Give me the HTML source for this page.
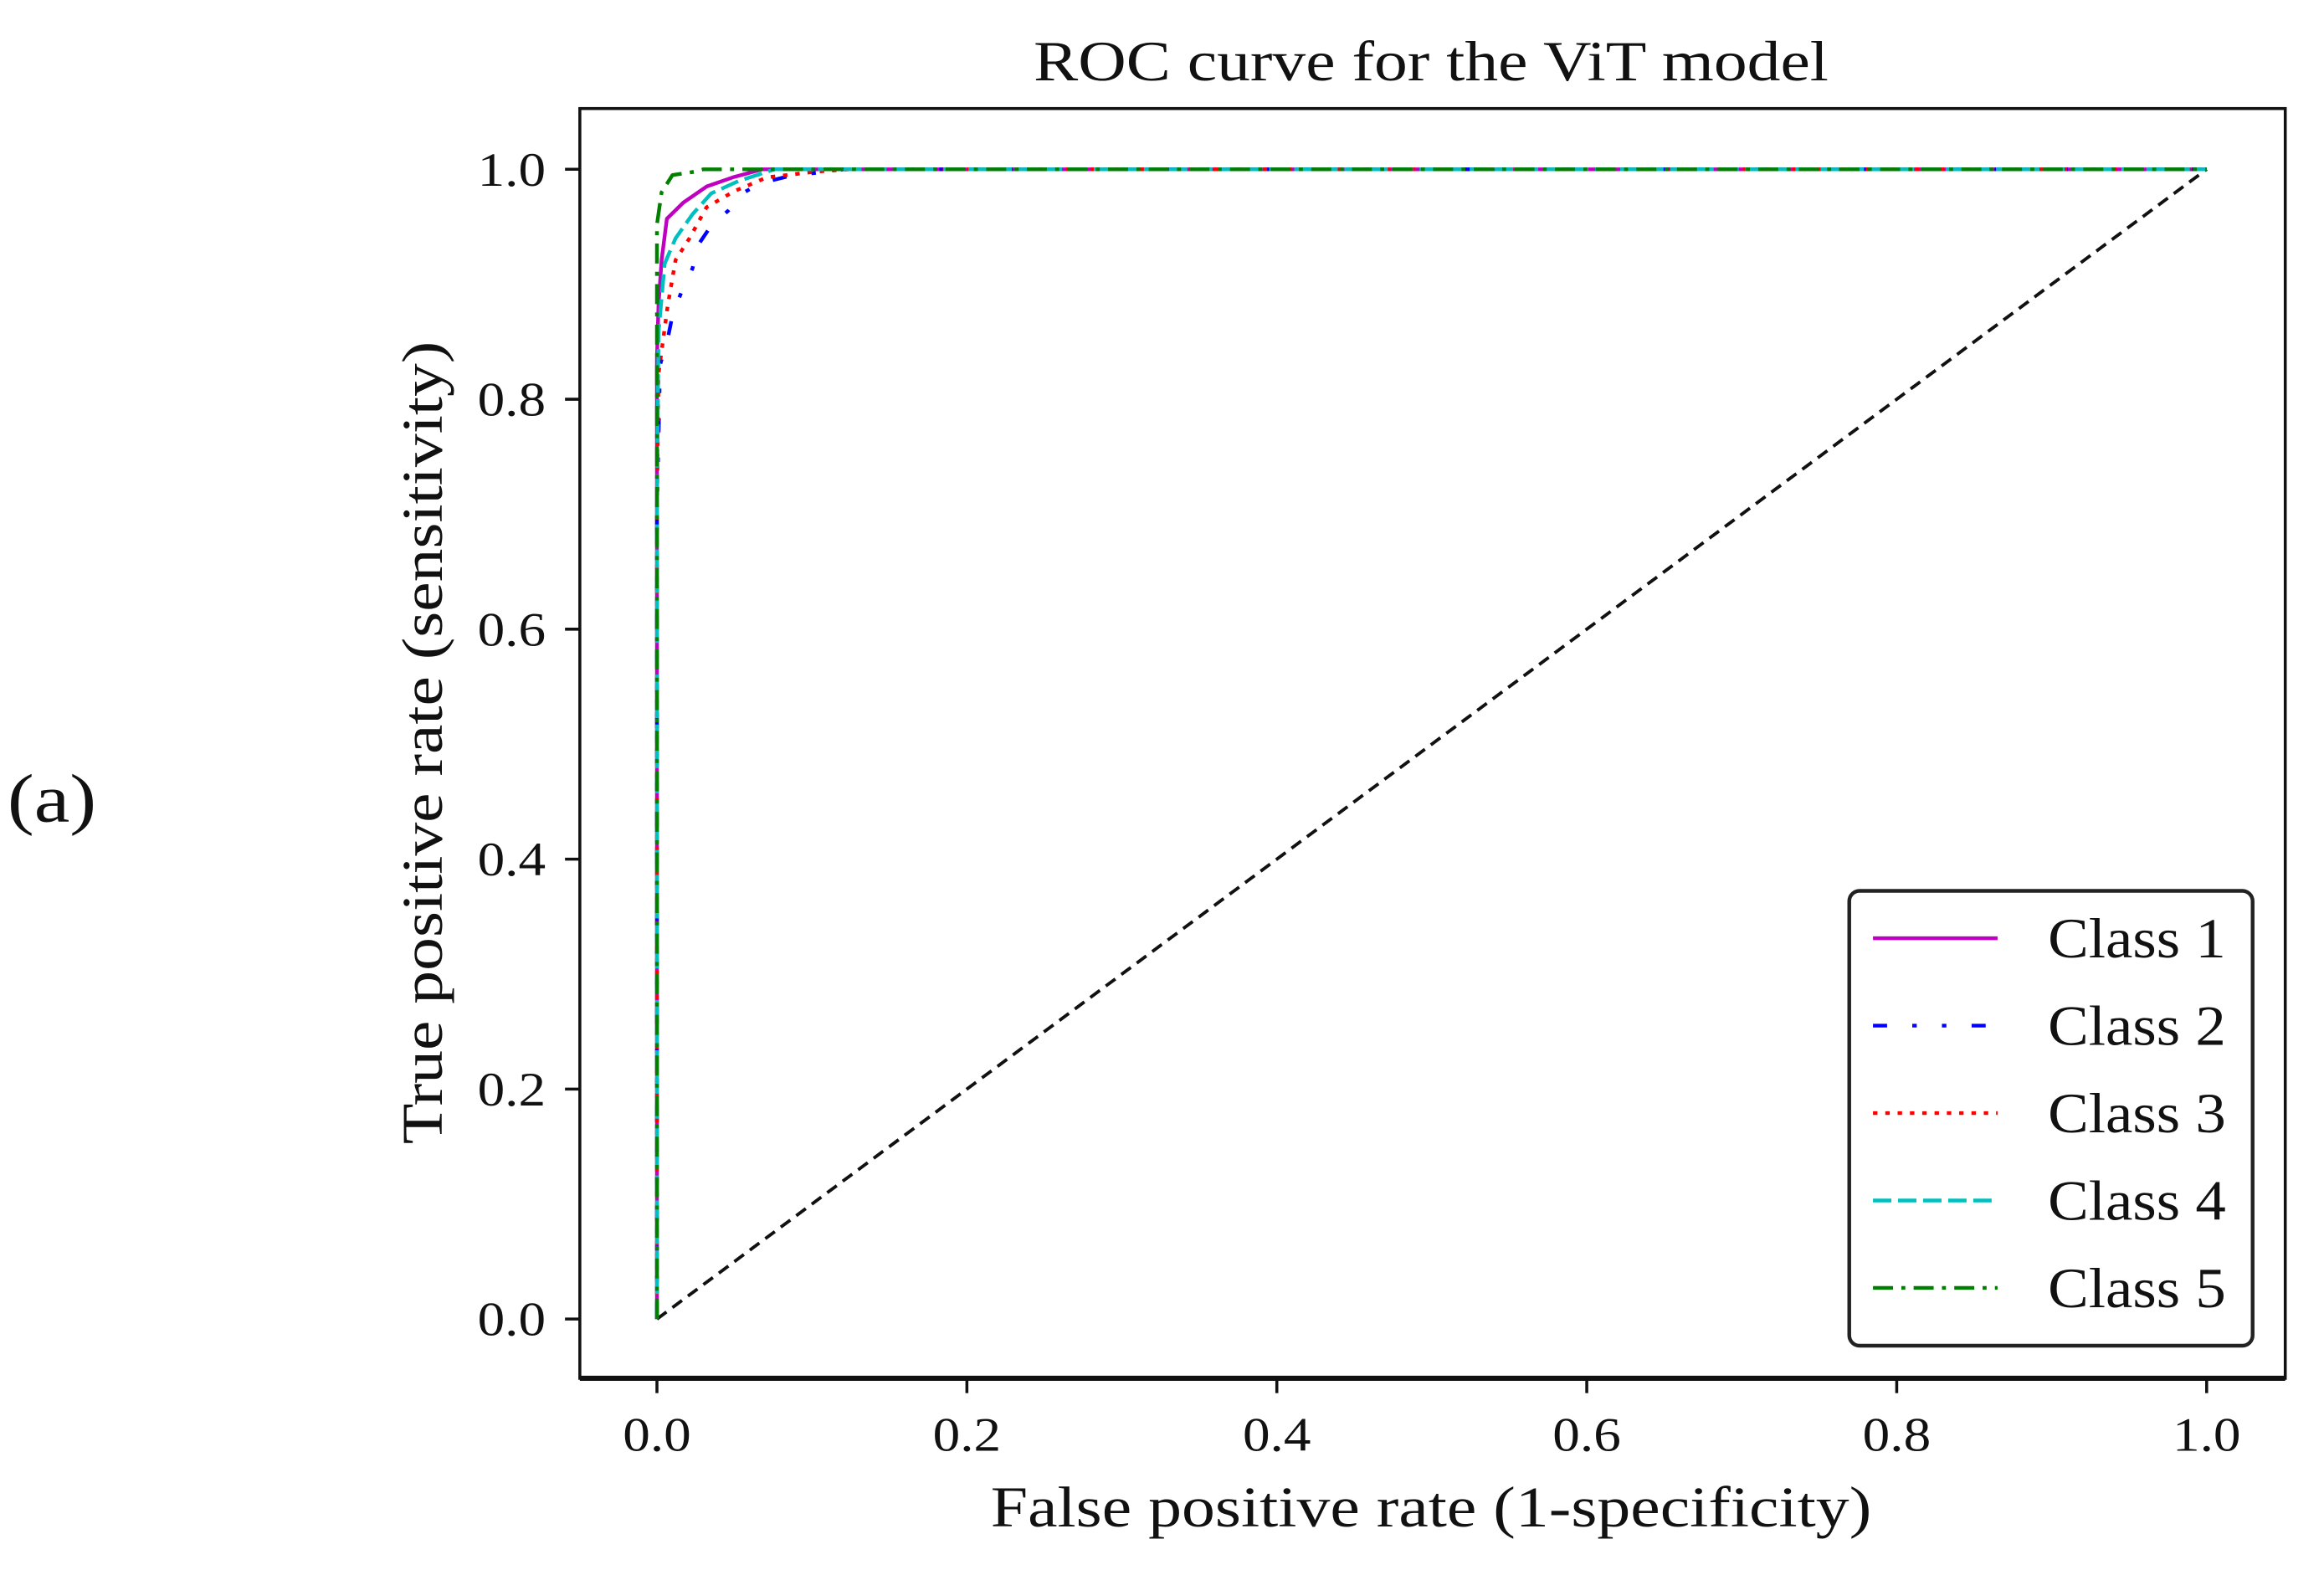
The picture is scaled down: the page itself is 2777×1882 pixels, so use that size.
<!DOCTYPE html>
<html><head><meta charset="utf-8"><style>
html,body{margin:0;padding:0;background:#fff;}
svg{display:block;}
text{font-family:"Liberation Serif",serif;fill:#111;}
</style></head><body>
<svg id="chart" width="2777" height="1882" viewBox="0 0 1556 1054" xmlns="http://www.w3.org/2000/svg">
<g transform="scale(0.9929,0.992)">
<text x="5" y="554" font-size="46" textLength="60" lengthAdjust="spacingAndGlyphs">(a)</text>
<text x="965" y="54" font-size="38" text-anchor="middle" textLength="536" lengthAdjust="spacingAndGlyphs">ROC curve for the ViT model</text>
<text x="965" y="1030" font-size="39" text-anchor="middle" textLength="594" lengthAdjust="spacingAndGlyphs">False positive rate (1-specificity)</text>
<text transform="translate(298,501) rotate(-90)" font-size="39" text-anchor="middle" textLength="542" lengthAdjust="spacingAndGlyphs">True positive rate (sensitivity)</text>
<g id="plot"></g>
<rect x="391" y="73" width="1150" height="857" fill="none" stroke="#111" stroke-width="2"/>
<line x1="391" y1="930" x2="1541" y2="930" stroke="#111" stroke-width="3.5"/>
<g id="ticks"></g>
<g id="legend">
<rect x="1247" y="601" width="272" height="307" rx="7" fill="#fff" stroke="#222" stroke-width="2.5"/>
</g>
</g>
</svg>
<script>
const xTicks=[0,0.2,0.4,0.6,0.8,1.0];
const yTicks=[0,0.2,0.4,0.6,0.8,1.0];
const tickLabels=["0.0","0.2","0.4","0.6","0.8","1.0"];
const classNames=["Class 1","Class 2","Class 3","Class 4","Class 5"];
const fpr1=[0,0,0,0.001,0.003,0.0064,0.017,0.032,0.049,0.068,1];
const tpr1=[0,0.7,0.835,0.882,0.921,0.957,0.971,0.985,0.993,1,1];
const fpr2=[0,0,0.002,0.007,0.01,0.016,0.023,0.026,0.035,0.046,0.055,0.067,0.085,0.121,1];
const tpr2=[0,0.7,0.83,0.853,0.873,0.894,0.914,0.933,0.951,0.964,0.979,0.988,0.994,1,1];
const fpr3=[0,0,0.001,0.007,0.012,0.021,0.032,0.05,0.071,0.103,0.125,1];
const tpr3=[0,0.7,0.822,0.882,0.921,0.94,0.967,0.981,0.993,0.998,1,1];
const fpr4=[0,0,0.001,0.005,0.012,0.023,0.035,0.053,0.076,1];
const tpr4=[0,0.7,0.858,0.918,0.94,0.961,0.979,0.99,1,1];
const fpr5=[0,0,0,0.003,0.01,0.025,0.03,1];
const tpr5=[0,0.7,0.952,0.98,0.995,0.998,1,1];
const diagX=[0,1];
const diagY=[0,1];

const NS="http://www.w3.org/2000/svg";
function sx(v){return 443+1045*v;}
function sy(v){return 890-776*v;}
const plot=document.getElementById('plot');
const ticks=document.getElementById('ticks');
const legend=document.getElementById('legend');
const colors=["#c000c0","#0000ff","#ff0000","#00bfbf","#007f00"];
const dashes=["none","9.5 17 3 17 3 17","3 5.3","12.4 4.5","13.5 5.6 2.7 5.6"];
function mk(tag,attrs,parent){const e=document.createElementNS(NS,tag);for(const k in attrs)e.setAttribute(k,attrs[k]);parent.appendChild(e);return e;}
xTicks.forEach((v,i)=>{
  const t=mk('line',{x1:sx(v),x2:sx(v),y1:930,y2:940,stroke:'#111','stroke-width':2},ticks);
  
  
  const l=mk('text',{x:sx(v),y:979,'font-size':32,'text-anchor':'middle',textLength:46,lengthAdjust:'spacingAndGlyphs'},ticks);
  l.textContent=tickLabels[i];
  
  
});
yTicks.forEach((v,i)=>{
  const t=mk('line',{x1:381,x2:391,y1:sy(v),y2:sy(v),stroke:'#111','stroke-width':2},ticks);
  
  
  const l=mk('text',{x:368,y:sy(v)+11,'font-size':32,'text-anchor':'end',textLength:46,lengthAdjust:'spacingAndGlyphs'},ticks);
  l.textContent=tickLabels[i];
  
  
});
function pts(xs,ys){return xs.map((x,i)=>sx(x)+','+sy(ys[i])).join(' ');}
const diag=mk('polyline',{points:pts(diagX,diagY),fill:'none',stroke:'#111','stroke-width':2.2,'stroke-dasharray':'8 5'},plot);


const series=[[fpr1,tpr1],[fpr2,tpr2],[fpr3,tpr3],[fpr4,tpr4],[fpr5,tpr5]];
series.forEach((s,i)=>{
  const p=mk('polyline',{points:pts(s[0],s[1]),fill:'none',stroke:colors[i],'stroke-width':2.5,'stroke-dasharray':dashes[i],'stroke-linejoin':'round'},plot);
  
  
  const y=633+59*i;
  const ln=mk('line',{x1:1263,x2:1347,y1:y,y2:y,stroke:colors[i],'stroke-width':2.5,'stroke-dasharray':dashes[i]},legend);
  
  
  const tx=mk('text',{x:1381,y:y+13,'font-size':38,textLength:120,lengthAdjust:'spacingAndGlyphs'},legend);
  tx.textContent=classNames[i];
  
  
});
</script>
</body></html>
